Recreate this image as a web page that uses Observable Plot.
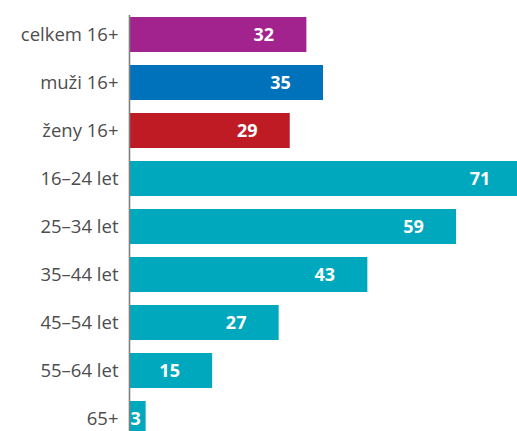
<!DOCTYPE html>
<html><head><meta charset="utf-8">
<script src="https://cdn.jsdelivr.net/npm/d3@7"></script>
<script src="https://cdn.jsdelivr.net/npm/@observablehq/plot@0.6"></script>
<style>body{margin:0;background:#fff;overflow:hidden}</style>
</head><body><div id="chart"></div>
<script>
const categories = ["celkem 16+","muži 16+","ženy 16+","16–24 let","25–34 let","35–44 let","45–54 let","55–64 let","65+"];
const values = [32,35,29,71,59,43,27,15,3];
const colors = ["#A3238E","#0071BB","#BE1B24","#00A8BD","#00A8BD","#00A8BD","#00A8BD","#00A8BD","#00A8BD"];
const data = categories.map((c,i)=>({cat:c, v:values[i], col:colors[i]}));
const step = 48.3, pad = 0.275;
const chart = Plot.plot({
  width: 517, height: 431,
  marginLeft: 129, marginRight: 0, marginTop: 15, marginBottom: 0,
  style: {fontFamily: "'Open Sans', sans-serif", background: "#fff", overflow: "hidden"},
  x: {domain: [0, 70], axis: null},
  y: {domain: categories, range: [16, 16 + step*(9 - pad)], paddingInner: pad, paddingOuter: 0, label: null, tickSize: 0, tickPadding: 11},
  marks: [
    Plot.barX(data, {x: "v", y: "cat", fill: "col"}),
    Plot.ruleX([0], {stroke: "#7f7f7f", strokeWidth: 1.6}),
    Plot.text(data.filter(d=>d.v>=10), {x: "v", y: "cat", text: d=>String(d.v), textAnchor: "middle", dx: -43, fill: "white", fontWeight: "bold", fontSize: 18}),
    Plot.text(data.filter(d=>d.v<10), {x: 0, y: "cat", text: d=>String(d.v), textAnchor: "start", dx: 1, fill: "white", fontWeight: "bold", fontSize: 18}),
    Plot.axisY({tickSize: 0, tickPadding: 11, fontSize: 18.5, fill: "#4d4d4d", label: null})
  ]
});
document.getElementById("chart").append(chart);
</script></body></html>
